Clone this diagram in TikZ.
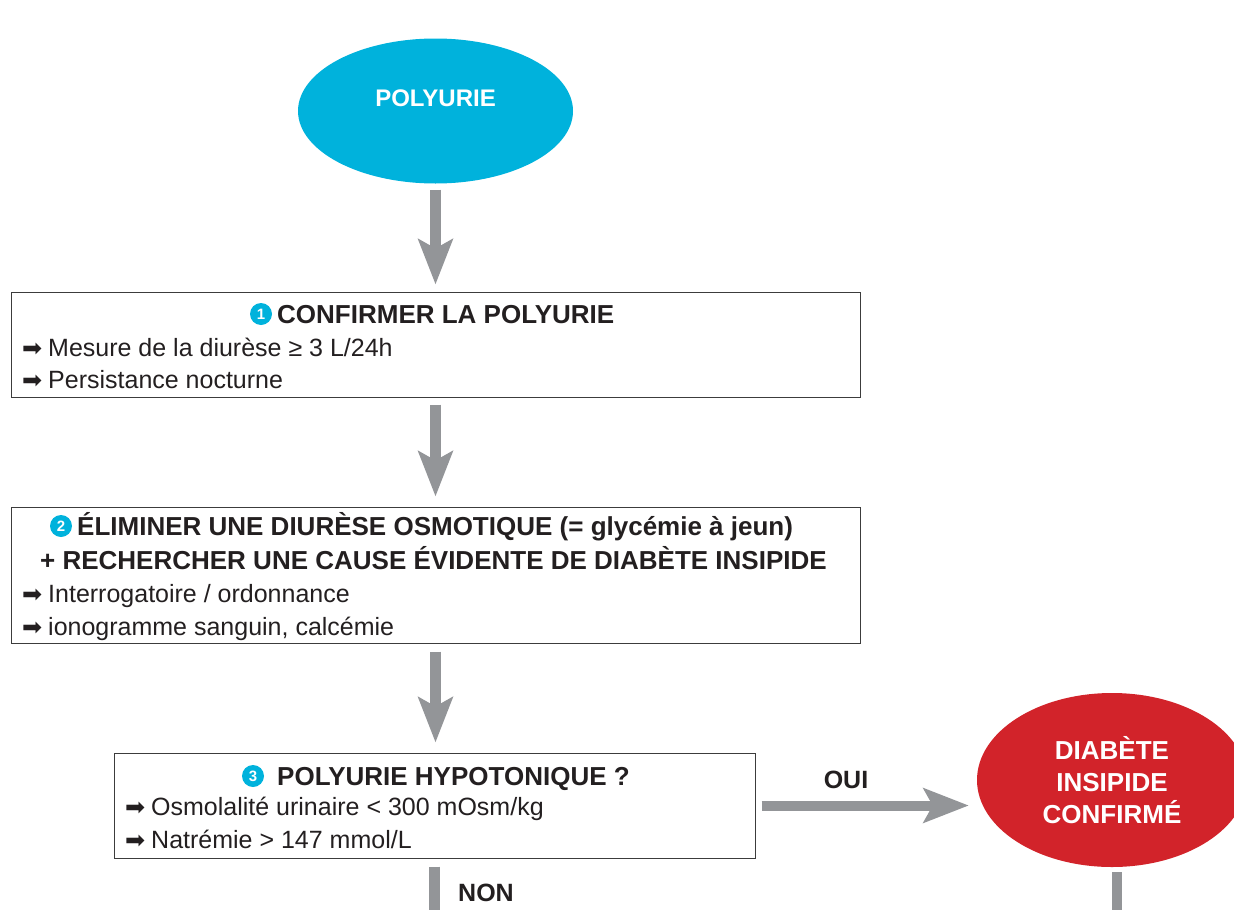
\documentclass[tikz,border=0pt]{standalone}
\usepackage{fontspec}
\setmainfont{Liberation Sans}
\newfontfamily\symf{DejaVu Sans}
\usetikzlibrary{shapes.geometric,arrows.meta}
\definecolor{cblue}{HTML}{00B2DC}
\definecolor{cred}{HTML}{D2232A}
\definecolor{cgray}{HTML}{939598}
\definecolor{cline}{HTML}{3C3C3C}
\definecolor{ctext}{HTML}{231F20}
\newcommand{\bu}{\makebox[26pt][l]{\symf\fontsize{24}{24}\selectfont ➡}}
\begin{document}
\begin{tikzpicture}[x=1pt,y=-1pt,
  box/.style={draw=cline, line width=1pt, rectangle, inner sep=0pt},
  numc/.style={circle, fill=cblue, text=white, font=\bfseries\fontsize{15}{15}\selectfont, minimum size=22pt, inner sep=0pt, outer sep=0pt},
  ttl/.style={font=\bfseries\fontsize{26}{30}\selectfont, inner sep=0pt, anchor=base west, text=ctext},
  bul/.style={font=\fontsize{25}{30}\selectfont, inner sep=0pt, anchor=base west, text=ctext},
  lab/.style={font=\bfseries\fontsize{25}{30}\selectfont, inner sep=0pt, text=ctext},
  bigarrow/.style={draw=cgray, line width=11pt, -{Stealth[length=45pt, width=34pt, inset=9pt]}},
  shaft/.style={draw=cgray, line width=11pt}]
\useasboundingbox (0,0) rectangle (1234,910);
\clip (0,0) rectangle (1234,910);

% start ellipse
\node[ellipse, fill=cblue, minimum width=275pt, minimum height=145pt, inner sep=0pt,
  label={[text=white, font=\bfseries\fontsize{24}{30}\selectfont, yshift=13pt]center:POLYURIE}] (p) at (435.5,111) {};

% box 1
\node[box, minimum width=849pt, minimum height=105pt] (b1) at (435.5,344.5) {};
\node[numc] (n1) at (261,314) {1};
\node[ttl] (t1) at (277,323) {CONFIRMER LA POLYURIE};
\node[bul] (l11) at (22,356) {\bu Mesure de la diurèse ≥ 3 L/24h};
\node[bul] (l12) at (22,388) {\bu Persistance nocturne};

% box 2
\node[box, minimum width=849pt, minimum height=136pt] (b2) at (435.5,575) {};
\node[numc] (n2) at (61,526) {2};
\node[ttl] (t21) at (77,535) {ÉLIMINER UNE DIURÈSE OSMOTIQUE (= glycémie à jeun)};
\node[ttl] (t22) at (40,569) {+ RECHERCHER UNE CAUSE ÉVIDENTE DE DIABÈTE INSIPIDE};
\node[bul] (l21) at (22,602) {\bu Interrogatoire / ordonnance};
\node[bul] (l22) at (22,635) {\bu ionogramme sanguin, calcémie};

% box 3
\node[box, minimum width=641pt, minimum height=105pt] (b3) at (434.5,805.5) {};
\node[numc] (n3) at (253,776) {3};
\node[ttl] (t3) at (277,785) {POLYURIE HYPOTONIQUE ?};
\node[bul] (l31) at (125,815) {\bu Osmolalité urinaire < 300 mOsm/kg};
\node[bul] (l32) at (125,848) {\bu Natrémie > 147 mmol/L};

% result ellipse
\node[ellipse, fill=cred, minimum width=270pt, minimum height=174pt, inner sep=0pt,
  text=white, align=center, font=\bfseries\fontsize{26}{32}\selectfont] (r) at (1112,780) {DIABÈTE\\INSIPIDE\\CONFIRMÉ};

% connectors
\draw[bigarrow, shorten <=6pt, shorten >=7pt] (p.south) -- (b1.north);
\draw[bigarrow, shorten <=7pt, shorten >=10pt] (b1.south) -- (b2.north);
\draw[bigarrow, shorten <=8pt, shorten >=10pt] (b2.south) -- (b2.south |- b3.north);
\draw[bigarrow, line width=10pt, shorten <=6pt, shorten >=8pt] (b3.east) -- (b3.east -| r.west);
\node[lab] (oui) at (846,780) {OUI};

\coordinate (nonend) at (434.5,915);
\draw[shaft, shorten <=8pt] (b3.south) -- (nonend);
\node[lab] (non) at (486,893) {NON};

\coordinate (rend) at (1117,915);
\draw[shaft, line width=10pt] ([yshift=-5pt]rend |- r.south) -- (rend);
\end{tikzpicture}
\end{document}
